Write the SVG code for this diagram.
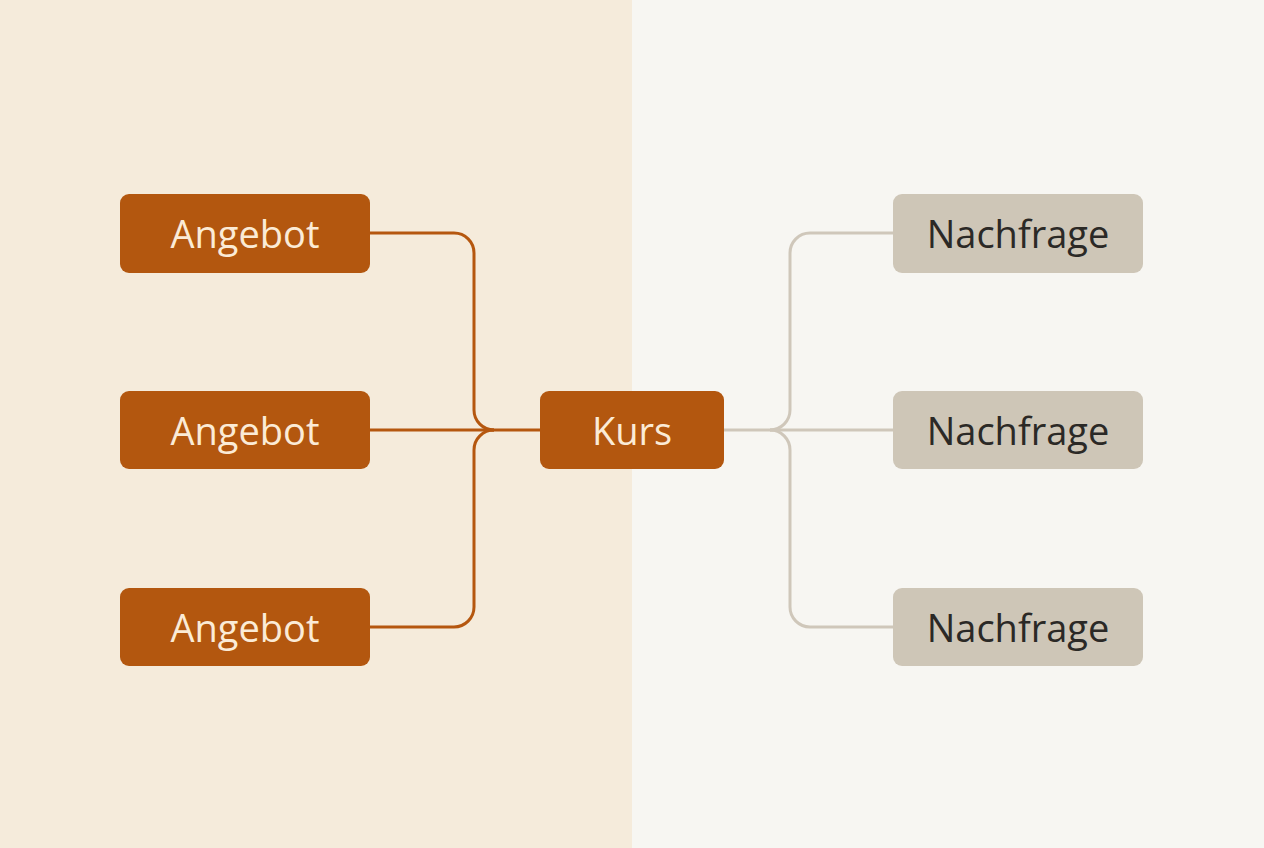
<svg xmlns="http://www.w3.org/2000/svg" width="1264" height="848" viewBox="0 0 1264 848">
<style>
.a rect{fill:#B3570F}
.a text{fill:#FBEBD6}
.n rect{fill:#CEC6B7}
.n text{fill:#2B2926}
text{font-family:"Open Sans","Liberation Sans",sans-serif;font-size:38px;text-anchor:middle;dominant-baseline:central}
.cl{fill:none;stroke:#B5570F;stroke-width:3}
.cr{fill:none;stroke:#CFC7BA;stroke-width:3}
</style>
<rect x="0" y="0" width="632" height="848" fill="#F5EBDB"/>
<rect x="632" y="0" width="632" height="848" fill="#F7F6F2"/>
<g id="connectors">
<path class="cl" d="M370 233 H454 A20 20 0 0 1 474 253 V410 A20 20 0 0 0 494 430"/>
<path class="cl" d="M370 627 H454 A20 20 0 0 0 474 607 V450 A20 20 0 0 1 494 430"/>
<path class="cl" d="M370 430 H540"/>
<path class="cr" d="M893 233 H810 A20 20 0 0 0 790 253 V410 A20 20 0 0 1 770 430"/>
<path class="cr" d="M893 627 H810 A20 20 0 0 1 790 607 V450 A20 20 0 0 0 770 430"/>
<path class="cr" d="M724 430 H893"/>
</g>
<g id="angebot1" class="a"><rect x="120" y="194" width="250" height="79" rx="9"/><text x="245" y="233">Angebot</text></g>
<g id="angebot2" class="a"><rect x="120" y="391" width="250" height="78" rx="9"/><text x="245" y="430">Angebot</text></g>
<g id="angebot3" class="a"><rect x="120" y="588" width="250" height="78" rx="9"/><text x="245" y="627">Angebot</text></g>
<g id="kurs" class="a"><rect x="540" y="391" width="184" height="78" rx="9"/><text x="632" y="430">Kurs</text></g>
<g id="nachfrage1" class="n"><rect x="893" y="194" width="250" height="79" rx="9"/><text x="1018" y="233">Nachfrage</text></g>
<g id="nachfrage2" class="n"><rect x="893" y="391" width="250" height="78" rx="9"/><text x="1018" y="430">Nachfrage</text></g>
<g id="nachfrage3" class="n"><rect x="893" y="588" width="250" height="78" rx="9"/><text x="1018" y="627">Nachfrage</text></g>
</svg>
